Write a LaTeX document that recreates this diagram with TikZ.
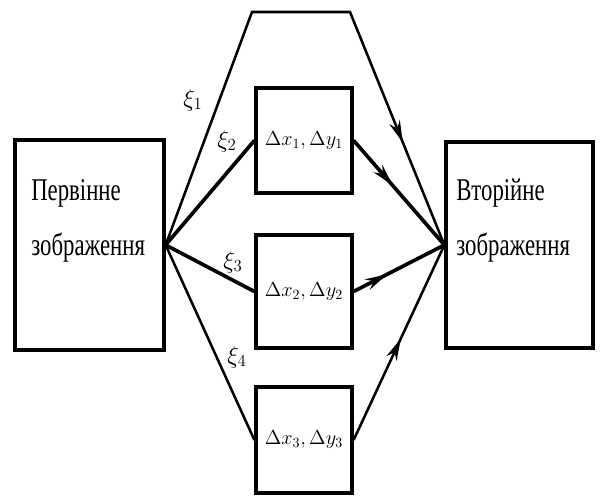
\documentclass[tikz,border=0pt]{standalone}
\usepackage{fontspec}
\newfontfamily\boxfont[FakeStretch=0.72]{Liberation Serif}
\usetikzlibrary{arrows.meta, decorations.markings}
\tikzset{
  every picture/.style={line width=1.8pt},
  box/.style={draw, line width=2.3pt, inner sep=0pt},
  boxtext/.style={font=\boxfont\fontsize{22.5}{39}\selectfont, align=left, inner sep=0pt},
  shiftbox/.style={font=\fontsize{14.4}{17}\selectfont},
  xi/.style={font=\fontsize{17.28}{20}\selectfont, inner sep=1pt},
  link/.style={line width=1.8pt},
  flow/.style={line width=2.6pt},
  midarrow/.style={postaction={decorate}, decoration={markings,
      mark=at position #1 with {\arrow{Stealth[length=5.5mm, width=2.8mm]}}}},
}

\begin{document}
\begin{tikzpicture}[x=0.025cm, y=-0.025cm]
  \useasboundingbox (0,0) rectangle (600,497);

  % first and second image
  \node[box, minimum width=3.725cm, minimum height=5.25cm] (src) at (89.5,245) {};
  \node[boxtext, anchor=north west] (srctxt) at (30,178) {Первінне\\зображення};
  \node[box, minimum width=3.675cm, minimum height=5.15cm] (dst) at (519.5,245) {};
  \node[boxtext, anchor=north west] (dsttxt) at (455,178) {Вторійне\\зображення};

  % the three shift blocks
  \foreach \i/\y/\h in {1/140.5/2.625, 2/291.5/2.825, 3/440/2.65} {
    \node[box, minimum width=2.4cm, minimum height=\h cm, shiftbox] (d\i) at (304,\y) {$\Delta x_\i,\Delta y_\i$};
  }

  % direct path over the top
  \coordinate (tl) at (252,12);
  \coordinate (tr) at (350,12);
  \draw[link, line join=miter, midarrow=0.815] (src.east) -- (tl) -- (tr) -- (dst.west);

  % paths through the blocks
  \draw[flow] (src.east) -- (d1.west);
  \draw[flow] (src.east) -- (d2.west);
  \draw[link] (src.east) -- (d3.west);
  \draw[flow, midarrow=0.43] (d1.east) -- (dst.west);
  \draw[flow, midarrow=0.37] (d2.east) -- (dst.west);
  \draw[link, midarrow=0.52] (d3.east) -- (dst.west);

  % labels
  \node[xi] (xi1) at (193,100) {$\xi_1$};
  \node[xi] (xi2) at (227,141) {$\xi_2$};
  \node[xi] (xi3) at (233,262) {$\xi_3$};
  \node[xi] (xi4) at (237,357) {$\xi_4$};
\end{tikzpicture}
\end{document}
